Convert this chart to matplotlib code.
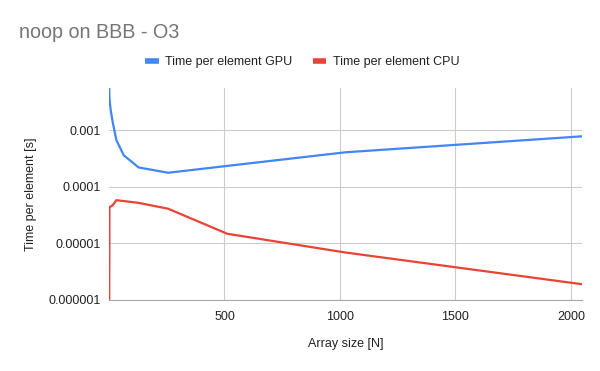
import matplotlib
matplotlib.use('Agg')
import matplotlib.pyplot as plt
from matplotlib.ticker import FixedLocator, FixedFormatter, NullLocator

plt.rcParams['font.family'] = ['Liberation Sans', 'DejaVu Sans']

sizes = [1, 2, 4, 8, 16, 32, 64, 128, 256, 512, 1024, 2048]
gpu_time = [5.5e-3, 3.9e-3, 3.0e-3, 2.2e-3, 1.4e-3, 6.7e-4, 3.6e-4,
            2.2e-4, 1.77e-4, 2.34e-4, 4.07e-4, 7.8e-4]
cpu_time = [5e-7, 4.4e-5, 4.4e-5, 4.5e-5, 4.7e-5, 5.8e-5, 5.6e-5,
            5.2e-5, 4.1e-5, 1.48e-5, 6.9e-6, 1.9e-6]

y_ticks = [1e-6, 1e-5, 1e-4, 1e-3]
y_labels = ['0.000001', '0.00001', '0.0001', '0.001']
x_ticks = [500, 1000, 1500, 2000]

blue = '#4285F4'
red = '#EA4335'

fig = plt.figure(figsize=(6, 3.71), dpi=100)
ax = fig.add_axes([0.182, 0.1914, 0.788, 0.5706])

ax.plot(sizes, gpu_time, color=blue, lw=1.6, label='Time per element GPU')
ax.plot(sizes, cpu_time, color=red, lw=1.6, label='Time per element CPU')

ax.set_yscale('log')
ax.set_xlim(1, 2048)
ax.set_ylim(1e-6, 5.5e-3)
ax.yaxis.set_major_locator(FixedLocator(y_ticks))
ax.yaxis.set_major_formatter(FixedFormatter(y_labels))
ax.yaxis.set_minor_locator(NullLocator())
ax.set_xticks(x_ticks)
ax.set_xticklabels([str(v) for v in x_ticks])

ax.grid(True, color='#cccccc', lw=0.8)
ax.set_axisbelow(True)
for s in ['top', 'right', 'left']:
    ax.spines[s].set_visible(False)
ax.spines['bottom'].set_color('#aaaaaa')
ax.spines['bottom'].set_linewidth(0.8)
ax.tick_params(length=0, labelsize=9, colors='#222222')
ax.tick_params(axis='y', pad=6)
ax.tick_params(axis='x', pad=8)

ax.set_xlabel('Array size [N]', fontsize=9, color='#222222', labelpad=11)
ax.set_ylabel('Time per element [s]', fontsize=9, color='#222222', labelpad=8)

fig.text(0.031, 1 - 37.5 / 371, 'noop on BBB - O3', fontsize=14.2, color='#757575',
         ha='left', va='baseline')

leg = fig.legend(loc='center', bbox_to_anchor=(0.504, 1 - 62 / 371), ncol=2,
                 frameon=False, fontsize=9, handlelength=1.1, handletextpad=0.55,
                 columnspacing=1.6)
for h in leg.get_lines():
    h.set_linewidth(4)
    h.set_solid_capstyle('butt')
for t in leg.get_texts():
    t.set_color('#222222')

fig.savefig('out.png', dpi=100)
